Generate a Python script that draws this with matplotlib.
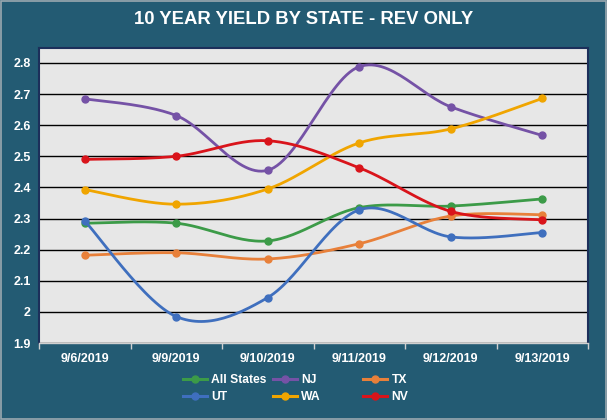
import numpy as np
import matplotlib
matplotlib.use("Agg")
import matplotlib.pyplot as plt
from matplotlib.patches import Rectangle

dates = ["9/6/2019", "9/9/2019", "9/10/2019", "9/11/2019", "9/12/2019", "9/13/2019"]
all_states = [2.285, 2.285, 2.228, 2.335, 2.34, 2.363]
nj = [2.685, 2.631, 2.455, 2.788, 2.659, 2.567]
tx = [2.182, 2.19, 2.17, 2.219, 2.308, 2.312]
ut = [2.292, 1.985, 2.046, 2.328, 2.241, 2.255]
wa = [2.393, 2.346, 2.395, 2.543, 2.588, 2.686]
nv = [2.49, 2.50, 2.55, 2.463, 2.323, 2.296]

series = {
    "All States": (all_states, "#3c9b48"),
    "NJ": (nj, "#7552a6"),
    "TX": (tx, "#e8803a"),
    "UT": (ut, "#3f6fbe"),
    "WA": (wa, "#f0a500"),
    "NV": (nv, "#d9141b"),
}
# legend columns as in the reference
legend_cols = [["All States", "UT"], ["NJ", "WA"], ["TX", "NV"]]

bg = "#235b73"
font = "Liberation Sans"


def smooth(x, y, n=30):
    # Excel-like smoothed line: cubic Bezier with Catmull-Rom control points
    x = np.asarray(x, float)
    y = np.asarray(y, float)
    px = np.concatenate([[x[0]], x, [x[-1]]])
    py = np.concatenate([[y[0]], y, [y[-1]]])
    xs, ys = [], []
    t = np.linspace(0, 1, n)
    for i in range(1, len(x)):
        p0 = np.array([px[i], py[i]])
        p3 = np.array([px[i + 1], py[i + 1]])
        c1 = p0 + (np.array([px[i + 1], py[i + 1]]) - np.array([px[i - 1], py[i - 1]])) / 6
        c2 = p3 - (np.array([px[i + 2], py[i + 2]]) - np.array([px[i], py[i]])) / 6
        b = ((1 - t) ** 3)[:, None] * p0 + (3 * (1 - t) ** 2 * t)[:, None] * c1 \
            + (3 * (1 - t) * t ** 2)[:, None] * c2 + (t ** 3)[:, None] * p3
        xs.append(b[:, 0])
        ys.append(b[:, 1])
    return np.concatenate(xs), np.concatenate(ys)


fig = plt.figure(figsize=(6.07, 4.2), dpi=100, facecolor=bg)
fig.patches.append(Rectangle((0.002, 0.002), 0.996, 0.996, transform=fig.transFigure,
                             fill=False, edgecolor="#9aa9b0", linewidth=1.2))

ax = fig.add_axes([39 / 607, 1 - 343 / 420, 549 / 607, 295 / 420])
ax.set_facecolor("#e7e7e7")

x = np.arange(len(dates))
handles = {}
for k, (name, (vals, col)) in enumerate(series.items()):
    sx, sy = smooth(x, vals)
    ax.plot(sx, sy, color=col, linewidth=2, zorder=3 + k)
    ax.plot(x, vals, "o", color=col, markersize=5, zorder=3 + k)
    h, = ax.plot([], [], color=col, linewidth=2.2, marker="o", markersize=5)
    handles[name] = h

ax.set_xlim(-0.5, 5.5)
ax.set_ylim(1.9, 2.848)
ax.set_yticks(np.arange(1.9, 2.81, 0.1))
ax.set_yticklabels(["1.9", "2", "2.1", "2.2", "2.3", "2.4", "2.5", "2.6", "2.7", "2.8"])
ax.yaxis.grid(True, color="black", linewidth=1)
ax.set_axisbelow(True)

ax.set_xticks(np.arange(-0.5, 5.6, 1))
ax.set_xticklabels([])
ax.set_xticks(x, minor=True)
ax.set_xticklabels(dates, minor=True)
ax.tick_params(axis="x", which="major", length=4, color="#d0d0d0", width=1)
ax.tick_params(axis="x", which="minor", length=0, pad=7)
ax.tick_params(axis="y", length=0, pad=6)
for lab in ax.get_xticklabels(minor=True) + ax.get_yticklabels():
    lab.set_color("white")
    lab.set_fontweight("bold")
    lab.set_fontsize(9)
    lab.set_fontfamily(font)

for side in ["left", "right", "top"]:
    ax.spines[side].set_color("#1c2f5a")
    ax.spines[side].set_linewidth(1.5)
ax.spines["bottom"].set_color("#d0d0d0")
ax.spines["bottom"].set_linewidth(1)

fig.text(0.5, 1 - 20 / 420, "10 YEAR YIELD BY STATE - REV ONLY", color="white",
         fontsize=13.3, fontweight="bold", family=font, ha="center", va="center")

col_x = [183, 273, 363]
for cx, names in zip(col_x, legend_cols):
    leg = fig.legend([handles[n] for n in names], names, loc="center left",
                     bbox_to_anchor=(cx / 607, 1 - 388.5 / 420), frameon=False,
                     borderpad=0, borderaxespad=0, handlelength=2.0, handletextpad=0.35,
                     labelspacing=0.45, prop={"family": font, "weight": "bold", "size": 8.7})
    for t in leg.get_texts():
        t.set_color("white")

fig.savefig("out.png", dpi=100, facecolor=bg)
